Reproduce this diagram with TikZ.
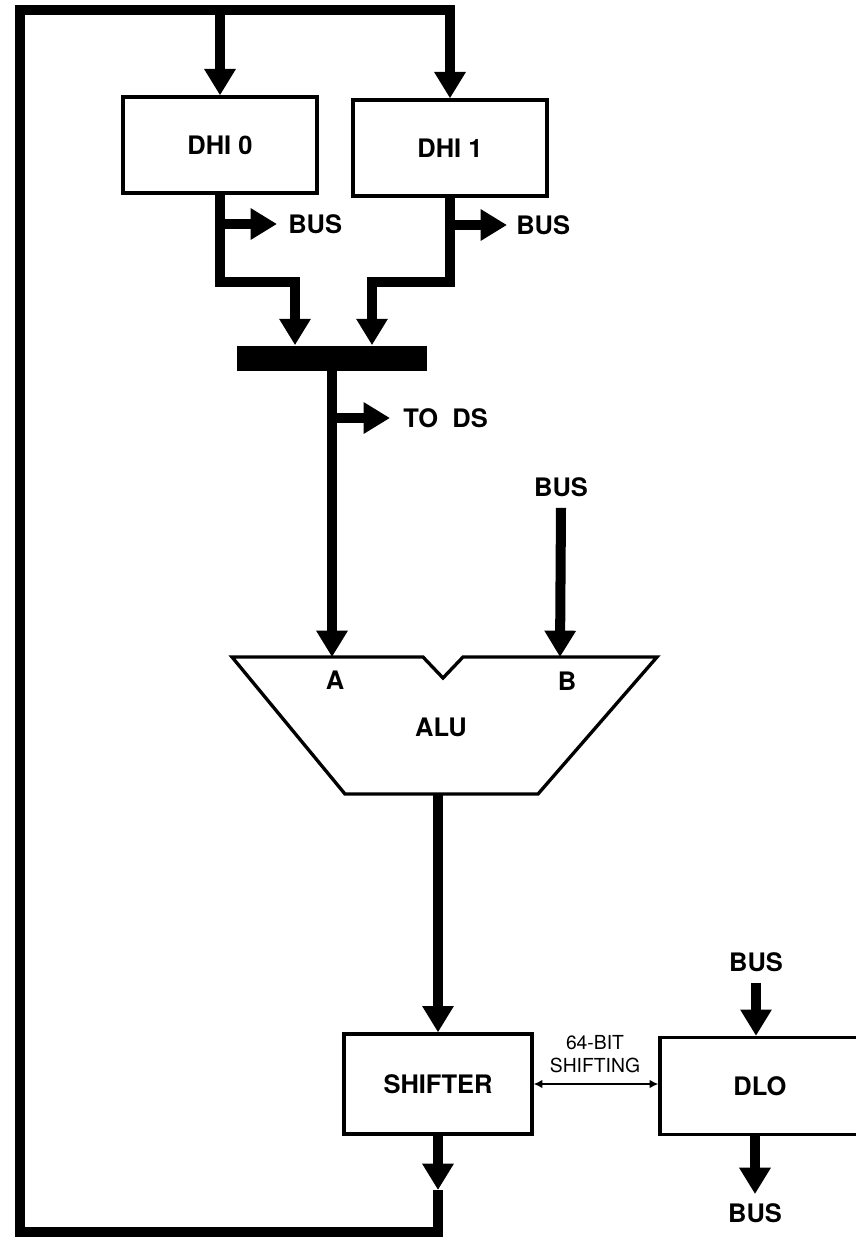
\documentclass[tikz,border=0pt]{standalone}
\usepackage{fontspec}
\setmainfont{TeX Gyre Heros}
\usetikzlibrary{arrows.meta,calc}

\begin{document}
\begin{tikzpicture}[x=0.02cm,y=-0.02cm,
  bus/.style={line width=5.7pt,line join=miter,-{Triangle[length=15pt,width=17pt]}},
  reg/.style={draw,line width=1.9pt,minimum width=3.88cm,minimum height=1.92cm,
    inner sep=0pt,font=\bfseries\fontsize{14.5}{17}\selectfont},
  lbl/.style={inner sep=0pt,font=\bfseries\fontsize{14.5}{17}\selectfont}]
  \useasboundingbox (0,0) rectangle (856,1242);
  % Registers
  \node[reg] (dhi0) at (220,145) {DHI 0};
  \node[reg] (dhi1) at (450,148) {DHI 1};
  \node[reg,minimum width=3.76cm,minimum height=2cm] (shifter) at (438,1084) {SHIFTER};
  \node[reg,minimum width=4cm,minimum height=1.94cm] (dlo) at (760,1086) {DLO};
  % Merge bar
  \node[fill,minimum width=3.82cm,minimum height=0.5cm,inner sep=0pt] (bar) at (332,358) {};
  % ALU outline
  \coordinate (aluA) at (332,657);
  \coordinate (aluB) at (560,657);
  \coordinate (aluout) at (438,794);
  \draw[line width=1.9pt,line join=miter] (232,657) -- (423,657) -- (443,678) -- (463,657)
    -- (657,657) -- (538,794) -- (345,794) -- cycle;
  \node[lbl] (alu) at (441,727) {ALU};
  \node[lbl] (ina) at (335,680) {A};
  \node[lbl] (inb) at (567,681) {B};
  % Bus labels
  \node[lbl,anchor=west] (bus0) at (288,224) {BUS};
  \node[lbl,anchor=west] (bus1) at (516,225) {BUS};
  \node[lbl,anchor=west] (tods) at (403,418) {TO\ \ DS};
  \node[lbl] (busb) at (561,487) {BUS};
  \node[lbl] (busin) at (756,962) {BUS};
  \node[lbl] (busout) at (755,1213) {BUS};
  % DHI outputs into the bar
  \coordinate (m0) at (295,282);
  \coordinate (m1) at (372,282);
  \draw[bus] (dhi0.south) |- (m0) -- (m0 |- bar.north);
  \draw[bus] (dhi1.south) |- (m1) -- (m1 |- bar.north);
  \coordinate (t0) at (dhi0.south |- bus0.west);
  \coordinate (t1) at (dhi1.south |- bus1.west);
  \draw[bus] (t0) -- ($(bus0.west)+(-11,0)$);
  \draw[bus] (t1) -- ($(bus1.west)+(-9,0)$);
  % Bar to ALU
  \draw[bus] (bar.south) -- (aluA);
  \coordinate (t2) at (bar.south |- tods.west);
  \draw[bus] (t2) -- ($(tods.west)+(-13,0)$);
  \draw[bus] ($(busb.south)+(0,11)$) -- (aluB);
  % ALU to shifter
  \draw[bus] (aluout) -- (shifter.north);
  % Shifter and DLO
  \draw[line width=1pt,{Latex[length=5pt,width=5pt]}-{Latex[length=5pt,width=5pt]}]
    (shifter.east) -- (shifter.east -| dlo.west);
  \node[inner sep=0pt,align=center,font=\fontsize{11}{13}\selectfont] (shift) at (595,1054) {64-BIT\\SHIFTING};
  \draw[bus] ($(busin.south)+(0,11)$) -- (busin.south |- dlo.north);
  \draw[bus] (busout.north |- dlo.south) -- ($(busout.north)+(0,-9)$);
  % Feedback loop
  \coordinate (loopin) at (438,1190);
  \draw[bus] (shifter.south) -- (loopin);
  \draw[bus] (loopin) |- (20,1232) |- (dhi1.north |- 0,10) -- (dhi1.north);
  \draw[bus] (dhi0.north |- 0,10) -- (dhi0.north);
\end{tikzpicture}
\end{document}
